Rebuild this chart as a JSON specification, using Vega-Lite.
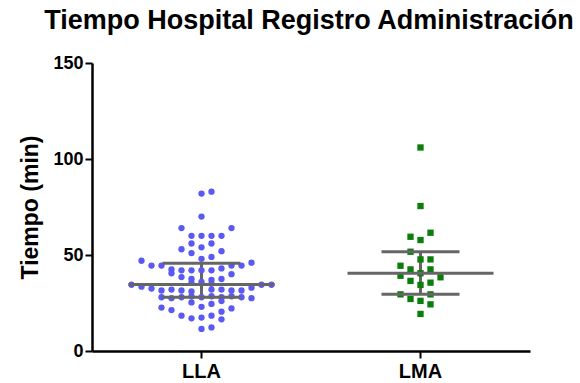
{
  "$schema": "https://vega.github.io/schema/vega-lite/v6.json",
  "autosize": "none",
  "width": 438,
  "height": 288,
  "padding": {"left": 92, "top": 63, "right": 50, "bottom": 32},
  "background": "white",
  "config": {
    "view": {"stroke": null},
    "font": "Liberation Sans"
  },
  "title": {
    "text": "Tiempo Hospital Registro Administración",
    "font": "Liberation Sans",
    "fontSize": 27,
    "fontWeight": "bold",
    "color": "black",
    "anchor": "middle",
    "frame": "group",
    "dx": -2,
    "offset": 19
  },
  "datasets": {
    "points": [
      {"grupo": "LLA", "slot": 0, "tiempo": 82},
      {"grupo": "LLA", "slot": 1, "tiempo": 83},
      {"grupo": "LLA", "slot": 0, "tiempo": 70},
      {"grupo": "LLA", "slot": -2, "tiempo": 64},
      {"grupo": "LLA", "slot": 3, "tiempo": 64},
      {"grupo": "LLA", "slot": -1, "tiempo": 60},
      {"grupo": "LLA", "slot": 0, "tiempo": 60},
      {"grupo": "LLA", "slot": 1, "tiempo": 60},
      {"grupo": "LLA", "slot": 2, "tiempo": 60},
      {"grupo": "LLA", "slot": -1, "tiempo": 56},
      {"grupo": "LLA", "slot": 1, "tiempo": 56},
      {"grupo": "LLA", "slot": 0, "tiempo": 54},
      {"grupo": "LLA", "slot": -2, "tiempo": 53},
      {"grupo": "LLA", "slot": 2, "tiempo": 52},
      {"grupo": "LLA", "slot": -1, "tiempo": 51},
      {"grupo": "LLA", "slot": 1, "tiempo": 49},
      {"grupo": "LLA", "slot": 0, "tiempo": 48},
      {"grupo": "LLA", "slot": -6, "tiempo": 47},
      {"grupo": "LLA", "slot": 5, "tiempo": 46},
      {"grupo": "LLA", "slot": -5, "tiempo": 44.5},
      {"grupo": "LLA", "slot": -4, "tiempo": 44.5},
      {"grupo": "LLA", "slot": 3, "tiempo": 44.5},
      {"grupo": "LLA", "slot": 4, "tiempo": 44.5},
      {"grupo": "LLA", "slot": -3, "tiempo": 42.5},
      {"grupo": "LLA", "slot": -2, "tiempo": 42},
      {"grupo": "LLA", "slot": -1, "tiempo": 42},
      {"grupo": "LLA", "slot": 0, "tiempo": 42},
      {"grupo": "LLA", "slot": 1, "tiempo": 42},
      {"grupo": "LLA", "slot": 2, "tiempo": 43},
      {"grupo": "LLA", "slot": -3, "tiempo": 40.5},
      {"grupo": "LLA", "slot": 3, "tiempo": 40},
      {"grupo": "LLA", "slot": -2, "tiempo": 38.5},
      {"grupo": "LLA", "slot": -1, "tiempo": 37.5},
      {"grupo": "LLA", "slot": 1, "tiempo": 37},
      {"grupo": "LLA", "slot": 2, "tiempo": 37.5},
      {"grupo": "LLA", "slot": -7, "tiempo": 34.5},
      {"grupo": "LLA", "slot": -6, "tiempo": 33.5},
      {"grupo": "LLA", "slot": -5, "tiempo": 32.5},
      {"grupo": "LLA", "slot": 5, "tiempo": 33},
      {"grupo": "LLA", "slot": 6, "tiempo": 34.5},
      {"grupo": "LLA", "slot": 7, "tiempo": 34.5},
      {"grupo": "LLA", "slot": -1, "tiempo": 35.5},
      {"grupo": "LLA", "slot": 1, "tiempo": 35},
      {"grupo": "LLA", "slot": 0, "tiempo": 36},
      {"grupo": "LLA", "slot": -4, "tiempo": 31.5},
      {"grupo": "LLA", "slot": -3, "tiempo": 32},
      {"grupo": "LLA", "slot": -2, "tiempo": 31.5},
      {"grupo": "LLA", "slot": -1, "tiempo": 31},
      {"grupo": "LLA", "slot": 1, "tiempo": 32},
      {"grupo": "LLA", "slot": 2, "tiempo": 32},
      {"grupo": "LLA", "slot": 3, "tiempo": 31.5},
      {"grupo": "LLA", "slot": 4, "tiempo": 31.5},
      {"grupo": "LLA", "slot": -4, "tiempo": 28},
      {"grupo": "LLA", "slot": -3, "tiempo": 27.5},
      {"grupo": "LLA", "slot": -2, "tiempo": 28},
      {"grupo": "LLA", "slot": -1, "tiempo": 28.5},
      {"grupo": "LLA", "slot": 0, "tiempo": 28},
      {"grupo": "LLA", "slot": 1, "tiempo": 28.5},
      {"grupo": "LLA", "slot": 2, "tiempo": 28},
      {"grupo": "LLA", "slot": 3, "tiempo": 28.5},
      {"grupo": "LLA", "slot": 4, "tiempo": 28},
      {"grupo": "LLA", "slot": 5, "tiempo": 27.5},
      {"grupo": "LLA", "slot": -1, "tiempo": 25.3},
      {"grupo": "LLA", "slot": 0, "tiempo": 23},
      {"grupo": "LLA", "slot": 1, "tiempo": 24.5},
      {"grupo": "LLA", "slot": 2, "tiempo": 26},
      {"grupo": "LLA", "slot": 3, "tiempo": 22.2},
      {"grupo": "LLA", "slot": -4, "tiempo": 22.6},
      {"grupo": "LLA", "slot": -3, "tiempo": 21.3},
      {"grupo": "LLA", "slot": 2, "tiempo": 20.5},
      {"grupo": "LLA", "slot": -2, "tiempo": 18.4},
      {"grupo": "LLA", "slot": -1, "tiempo": 17},
      {"grupo": "LLA", "slot": 0, "tiempo": 17.4},
      {"grupo": "LLA", "slot": 1, "tiempo": 18.4},
      {"grupo": "LLA", "slot": 2, "tiempo": 16.5},
      {"grupo": "LLA", "slot": 0, "tiempo": 11.5},
      {"grupo": "LLA", "slot": 1, "tiempo": 12.3},
      {"grupo": "LMA", "slot": 0, "tiempo": 106},
      {"grupo": "LMA", "slot": 0, "tiempo": 75.5},
      {"grupo": "LMA", "slot": -1, "tiempo": 59.5},
      {"grupo": "LMA", "slot": 0, "tiempo": 57.8},
      {"grupo": "LMA", "slot": 1, "tiempo": 61.6},
      {"grupo": "LMA", "slot": -1, "tiempo": 51.7},
      {"grupo": "LMA", "slot": 0, "tiempo": 47.7},
      {"grupo": "LMA", "slot": 1, "tiempo": 47.7},
      {"grupo": "LMA", "slot": -2, "tiempo": 44.4},
      {"grupo": "LMA", "slot": -1, "tiempo": 42.5},
      {"grupo": "LMA", "slot": 1, "tiempo": 42.5},
      {"grupo": "LMA", "slot": -2, "tiempo": 39.2},
      {"grupo": "LMA", "slot": 0, "tiempo": 40.5},
      {"grupo": "LMA", "slot": 2, "tiempo": 38.4},
      {"grupo": "LMA", "slot": -1, "tiempo": 36.5},
      {"grupo": "LMA", "slot": 1, "tiempo": 35.6},
      {"grupo": "LMA", "slot": 0, "tiempo": 34.4},
      {"grupo": "LMA", "slot": -2, "tiempo": 29.5},
      {"grupo": "LMA", "slot": 1, "tiempo": 29.5},
      {"grupo": "LMA", "slot": -1, "tiempo": 27.1},
      {"grupo": "LMA", "slot": 0, "tiempo": 26.1},
      {"grupo": "LMA", "slot": 1, "tiempo": 24.3},
      {"grupo": "LMA", "slot": 0, "tiempo": 19.3}
    ],
    "summary": [
      {"grupo": "LLA", "media": 34.6, "inferior": 28.0, "superior": 45.7},
      {"grupo": "LMA", "media": 40.5, "inferior": 29.5, "superior": 51.7}
    ]
  },
  "encoding": {
    "x": {
      "field": "grupo",
      "type": "nominal",
      "scale": {"domain": ["LLA", "LMA"], "paddingInner": 0, "paddingOuter": 0},
      "axis": {
        "title": null,
        "labelAngle": 0,
        "labelFont": "Liberation Sans",
        "labelFontSize": 20,
        "labelFontWeight": "bold",
        "labelColor": "black",
        "labelPadding": 3,
        "tickSize": 7,
        "tickWidth": 2,
        "tickColor": "black",
        "domainColor": "black",
        "domainWidth": 2.5
      }
    }
  },
  "layer": [
    {
      "data": {"name": "summary"},
      "mark": {"type": "rule", "color": "#666666", "strokeWidth": 3},
      "encoding": {
        "y": {"field": "inferior", "type": "quantitative"},
        "y2": {"field": "superior"}
      }
    },
    {
      "data": {"name": "points"},
      "mark": {"type": "point", "filled": true, "opacity": 1, "size": 40},
      "encoding": {
        "xOffset": {
          "field": "slot",
          "type": "quantitative",
          "scale": {"domain": [-10.95, 10.95]}
        },
        "y": {
          "field": "tiempo",
          "type": "quantitative",
          "scale": {"domain": [0, 150], "nice": false},
          "axis": {
            "title": "Tiempo (min)",
            "titleFont": "Liberation Sans",
            "titleFontSize": 23,
            "titleFontWeight": "bold",
            "titleColor": "black",
            "titlePadding": 10,
            "values": [0, 50, 100, 150],
            "grid": false,
            "labelFont": "Liberation Sans",
            "labelFontSize": 18,
            "labelFontWeight": "bold",
            "labelColor": "black",
            "labelPadding": 2,
            "tickSize": 7,
            "tickWidth": 2,
            "tickColor": "black",
            "domainColor": "black",
            "domainWidth": 2.5
          }
        },
        "color": {
          "field": "grupo",
          "type": "nominal",
          "scale": {"domain": ["LLA", "LMA"], "range": ["#5a5af2", "#0a7d0a"]},
          "legend": null
        },
        "shape": {
          "field": "grupo",
          "type": "nominal",
          "scale": {"domain": ["LLA", "LMA"], "range": ["circle", "square"]},
          "legend": null
        }
      }
    },
    {
      "data": {"name": "summary"},
      "mark": {"type": "tick", "color": "#666666", "thickness": 3, "size": 146, "opacity": 1},
      "encoding": {"y": {"field": "media", "type": "quantitative"}}
    },
    {
      "data": {"name": "summary"},
      "mark": {"type": "tick", "color": "#666666", "thickness": 3, "size": 78, "opacity": 1},
      "encoding": {"y": {"field": "inferior", "type": "quantitative"}}
    },
    {
      "data": {"name": "summary"},
      "mark": {"type": "tick", "color": "#666666", "thickness": 3, "size": 78, "opacity": 1},
      "encoding": {"y": {"field": "superior", "type": "quantitative"}}
    }
  ]
}
